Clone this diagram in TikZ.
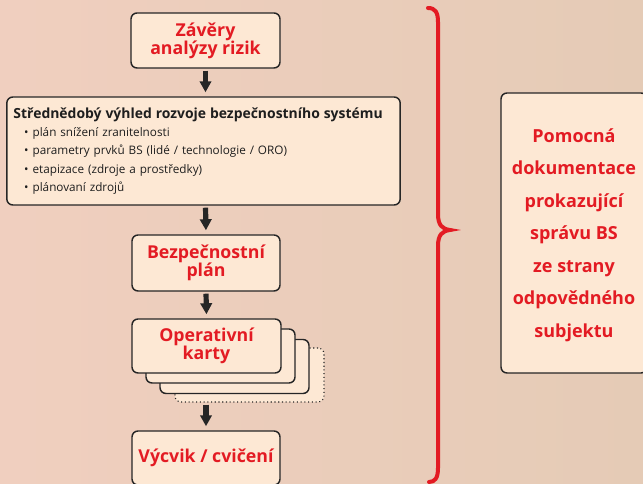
\documentclass[tikz,border=0pt]{standalone}
\usepackage{fontspec}
\setmainfont{Open Sans}
\usetikzlibrary{arrows.meta, backgrounds}
\definecolor{riskred}{HTML}{E31B23}
\definecolor{boxfill}{HTML}{FDE8D4}
\definecolor{boxline}{HTML}{262626}
\definecolor{inkgray}{HTML}{1E1E1E}
\definecolor{bgpink}{HTML}{F0CFBF}
\definecolor{bgmid}{HTML}{E9C8B4}
\definecolor{bgtan}{HTML}{E5CBB6}
\tikzset{
  stage/.style={rectangle, rounded corners=4.5pt, draw=boxline, line width=1.1pt, fill=boxfill,
    text=riskred, font=\bfseries\fontsize{13.3}{13.5}\selectfont, align=center,
    minimum width=111.75pt, minimum height=41.25pt, inner sep=2pt},
  outlook/.style={rectangle, rounded corners=4.5pt, draw=boxline, line width=1.1pt, fill=boxfill,
    text=inkgray, font=\fontsize{8.8}{13.6}\selectfont, align=left,
    text width=285pt, minimum height=81pt, inner xsep=5pt, inner ysep=2pt},
  card/.style={rectangle, rounded corners=4.5pt, draw=boxline, line width=1.1pt, fill=boxfill,
    minimum width=111.75pt, minimum height=40.5pt},
  card/dot/.style={card, line width=0.8pt, dotted},
  side/.style={rectangle, rounded corners=4.5pt, draw=boxline, line width=1.1pt, fill=boxfill,
    text=riskred, font=\bfseries\fontsize{13.5}{24.4}\selectfont, align=center,
    minimum width=109.5pt, minimum height=210pt, text depth=-2.8pt},
  ar/.style={-{Triangle[length=8.25pt, width=8.5pt]}, draw=boxline, line width=3.9pt,
    shorten <=1.5pt, shorten >=3pt},
  brace/.style={draw=riskred, line width=3pt, line cap=round},
}
\newcommand{\BL}[1]{\hspace*{8pt}\textbullet\hspace{3pt}#1}

\begin{document}
\begin{tikzpicture}[x=0.75pt, y=-0.75pt]
\clip (0,0) rectangle (643,484);
\shade[left color=bgpink, middle color=bgmid, right color=bgtan] (0,0) rectangle (643,484);

\node[stage] (ZAV) at (205.5,40.5) {Závěry\\analýzy rizik};
\node[outlook] (VYH) at (203.5,151) {{\bfseries\fontsize{10.45}{13.6}\selectfont Střednědobý výhled rozvoje bezpečnostního systému}\\
  \BL{plán snížení zranitelnosti}\\
  \BL{parametry prvků BS (lidé / technologie / ORO)}\\
  \BL{etapizace (zdroje a prostředky)}\\
  \BL{plánovaní zdrojů}};
\node[stage, minimum width=111pt, minimum height=42pt] (BPL) at (206,263) {Bezpečnostní\\plán};

\node[card/dot] (OK3) at (249.5,375) {};
\node[card] (OK2) at (234.5,366.5) {};
\node[card] (OK1) at (220.5,356) {};
\node[stage, minimum height=40.5pt] (OPK) at (206.5,346) {Operativní\\karty};

\node[stage, minimum width=111pt, minimum height=40.5pt] (VYC) at (206,458) {Výcvik / cvičení};

\node[side] (POM) at (574,233) {Pomocná\\dokumentace\\prokazující\\správu BS\\ze strany\\odpovědného\\subjektu};

\draw[ar] (ZAV.south) -- (VYH.north -| ZAV.south);
\draw[ar] (VYH.south -| ZAV.south) -- (BPL.north);
\draw[ar] (BPL.south) -- (OPK.north);
\draw[ar] (OK3.south -| VYC.north) -- (VYC.north);

\draw[brace] (428,8) .. controls (435,8) and (438,12) .. (438,22) -- (438,214)
  .. controls (438,225) and (442,229) .. (450,230)
  .. controls (442,231) and (438,235) .. (438,246) -- (438,468)
  .. controls (438,478) and (435,482) .. (429,482);
\end{tikzpicture}
\end{document}
